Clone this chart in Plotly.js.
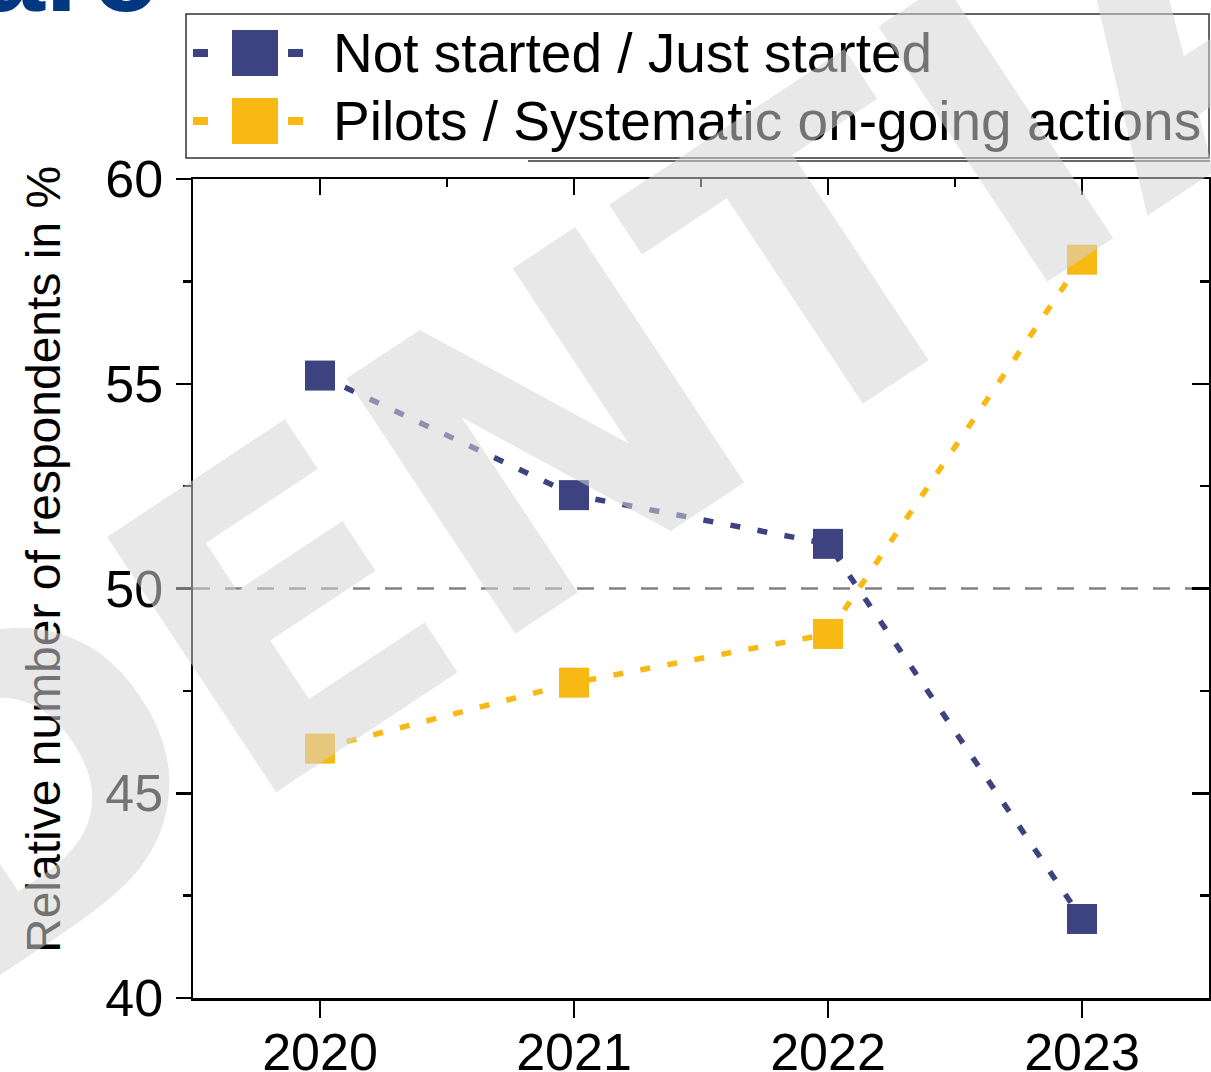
<!DOCTYPE html>
<html>
<head>
<meta charset="utf-8">
<script src="https://cdn.plot.ly/plotly-3.0.1.min.js"></script>
<style>
  html, body { margin: 0; padding: 0; background: #ffffff; }
  #chart { width: 1211px; height: 1072px; }
</style>
</head>
<body>
<div id="chart"></div>
<script>
// ---- data ----
const years = [2020, 2021, 2022, 2023];
const notStarted = [55.2, 52.28, 51.09, 41.93];
const pilots = [46.09, 47.70, 48.89, 58.03];
const seriesNames = ['Not started / Just started', 'Pilots / Systematic on-going actions'];
const yTickVals = [40, 45, 50, 55, 60];
const threshold = 50;
const yTitle = 'Relative number of respondents in %';
const watermarkText = 'CONFIDENTIAL';
const titleFragment = 'are';

// ---- styling ----
const navy = '#3C4380';
const gold = '#F9B914';
const FONT = 'Liberation Sans, Arial, Helvetica, sans-serif';

const W = 1211, H = 1072;
const M = { l: 193, r: 2, t: 179, b: 74 };
const plotW = W - M.l - M.r, plotH = H - M.t - M.b;
// pixel -> paper helpers for decorations (legend box, texts)
const px = p => (p - M.l) / plotW;
const py = p => (H - M.b - p) / plotH;

const lineDash = '10px,17.5px';

const traces = [
  {
    type: 'scatter', mode: 'lines+markers', name: seriesNames[0],
    x: years, y: notStarted,
    line: { color: navy, width: 5.5, dash: lineDash },
    marker: { symbol: 'square', size: 30, color: navy, line: { width: 0 } },
    showlegend: false, hoverinfo: 'x+y'
  },
  {
    type: 'scatter', mode: 'lines+markers', name: seriesNames[1],
    x: years, y: pilots,
    line: { color: gold, width: 5.5, dash: lineDash },
    marker: { symbol: 'square', size: 30, color: gold, line: { width: 0 } },
    showlegend: false, hoverinfo: 'x+y'
  },
  {
    type: 'scatter', mode: 'markers', x: [years[0]], y: [threshold],
    xaxis: 'x2', yaxis: 'y2', marker: { opacity: 0, size: 1 },
    showlegend: false, hoverinfo: 'skip'
  }
];

const tickFont = { family: FONT, size: 52, color: '#000' };
const xRange = [years[0] - 0.5, years[years.length - 1] + 0.5];
const yRange = [yTickVals[0], yTickVals[yTickVals.length - 1]];

const layout = {
  width: W, height: H,
  margin: { l: M.l, r: M.r, t: M.t, b: M.b, pad: 0 },
  paper_bgcolor: '#ffffff', plot_bgcolor: '#ffffff',
  font: { family: FONT, color: '#000' },
  showlegend: false,
  xaxis: {
    type: 'linear', range: xRange, tickmode: 'array', tickvals: years,
    ticktext: years.map(String),
    ticks: 'outside', ticklen: 17, tickwidth: 2.5, tickcolor: '#000',
    showline: true, linewidth: 2.5, linecolor: '#000',
    showgrid: false, zeroline: false, tickfont: tickFont,
    ticklabelstandoff: -10
  },
  xaxis2: {
    type: 'linear', overlaying: 'x', side: 'top', range: xRange,
    tickmode: 'array', tickvals: years, showticklabels: false,
    ticks: 'inside', ticklen: 16, tickwidth: 2.5, tickcolor: '#000',
    minor: { tickmode: 'linear', tick0: years[0] - 0.5, dtick: 1, ticks: 'inside', ticklen: 8, tickwidth: 2.5, tickcolor: '#000' },
    showline: true, linewidth: 2.5, linecolor: '#000',
    showgrid: false, zeroline: false
  },
  yaxis: {
    range: yRange, tickmode: 'array', tickvals: yTickVals,
    ticks: 'outside', ticklen: 15, tickwidth: 2.5, tickcolor: '#000',
    minor: { tickmode: 'linear', tick0: yRange[0], dtick: 2.5, ticks: 'outside', ticklen: 8, tickwidth: 2.5, tickcolor: '#000' },
    showline: true, linewidth: 2.5, linecolor: '#000',
    showgrid: false, zeroline: false, tickfont: tickFont,
    ticklabelstandoff: 2
  },
  yaxis2: {
    overlaying: 'y', side: 'right', range: yRange,
    tickmode: 'array', tickvals: yTickVals, showticklabels: false,
    ticks: 'inside', ticklen: 17, tickwidth: 2.5, tickcolor: '#000',
    minor: { tickmode: 'linear', tick0: yRange[0], dtick: 2.5, ticks: 'inside', ticklen: 9, tickwidth: 2.5, tickcolor: '#000' },
    showline: true, linewidth: 2.5, linecolor: '#000',
    showgrid: false, zeroline: false
  },
  shapes: [
    // 50 % reference line
    { type: 'line', xref: 'paper', x0: 0, x1: 1, yref: 'y', y0: threshold, y1: threshold,
      line: { color: '#808080', width: 2.5, dash: '17px,15px' }, layer: 'below' },
    // legend frame
    { type: 'rect', xref: 'paper', yref: 'paper', x0: px(186), x1: px(1209), y0: py(158), y1: py(14),
      line: { color: '#333333', width: 1.5 }, fillcolor: '#ffffff', layer: 'above' },
    { type: 'line', xref: 'paper', yref: 'paper', x0: px(528), x1: px(1210), y0: py(161), y1: py(161),
      line: { color: '#333333', width: 1.5 }, layer: 'above' },
    // legend swatches, row 1
    { type: 'rect', xref: 'paper', yref: 'paper', x0: px(193), x1: px(208), y0: py(57), y1: py(49),
      fillcolor: navy, line: { width: 0 }, layer: 'above' },
    { type: 'rect', xref: 'paper', yref: 'paper', x0: px(232), x1: px(278), y0: py(76), y1: py(30),
      fillcolor: navy, line: { width: 0 }, layer: 'above' },
    { type: 'rect', xref: 'paper', yref: 'paper', x0: px(288), x1: px(303), y0: py(57), y1: py(49),
      fillcolor: navy, line: { width: 0 }, layer: 'above' },
    // legend swatches, row 2
    { type: 'rect', xref: 'paper', yref: 'paper', x0: px(193), x1: px(208), y0: py(125), y1: py(117),
      fillcolor: gold, line: { width: 0 }, layer: 'above' },
    { type: 'rect', xref: 'paper', yref: 'paper', x0: px(232), x1: px(278), y0: py(144), y1: py(98),
      fillcolor: gold, line: { width: 0 }, layer: 'above' },
    { type: 'rect', xref: 'paper', yref: 'paper', x0: px(288), x1: px(303), y0: py(125), y1: py(117),
      fillcolor: gold, line: { width: 0 }, layer: 'above' }
  ],
  annotations: [
    { text: yTitle, textangle: -90, xref: 'paper', yref: 'paper', x: px(43), y: py(560),
      xanchor: 'center', yanchor: 'middle', showarrow: false,
      font: { family: FONT, size: 48, color: '#000' } },
    { text: seriesNames[0], xref: 'paper', yref: 'paper', x: px(331), y: py(53),
      xanchor: 'left', yanchor: 'middle', showarrow: false,
      font: { family: FONT, size: 55, color: '#000' } },
    { text: seriesNames[1], xref: 'paper', yref: 'paper', x: px(331), y: py(121),
      xanchor: 'left', yanchor: 'middle', showarrow: false,
      font: { family: FONT, size: 55, color: '#000' } },
    { text: titleFragment, xref: 'paper', yref: 'paper', x: px(160), y: py(38),
      xanchor: 'right', yanchor: 'bottom', showarrow: false,
      font: { family: FONT, size: 120, color: '#003781', weight: 700 } },
    { text: watermarkText, textangle: -33.5, xref: 'paper', yref: 'paper', x: px(107.1), y: py(729.0),
      xanchor: 'center', yanchor: 'middle', showarrow: false,
      font: { family: 'DejaVu Sans', size: 420, color: 'rgba(213,213,213,0.54)', weight: 700 } }
  ]
};

Plotly.newPlot('chart', traces, layout, { displayModeBar: false, staticPlot: true });
</script>
</body>
</html>
